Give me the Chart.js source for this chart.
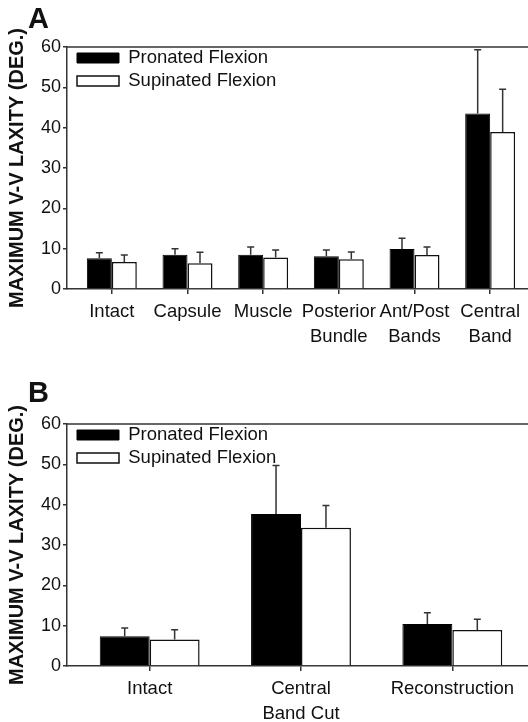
<!DOCTYPE html>
<html>
<head>
<meta charset="utf-8">
<script src="https://cdn.jsdelivr.net/npm/chart.js@4.4.1/dist/chart.umd.min.js"></script>
<style>
  html, body { margin: 0; padding: 0; background: #fff; }
  body { width: 528px; height: 722px; position: relative; overflow: hidden; font-family: "Liberation Sans", Arial, sans-serif; }
  .panel { position: absolute; left: 0; width: 528px; }
  .letter { position: absolute; left: 28px; font-weight: bold; font-size: 29px; line-height: 1; color: #111; }
</style>
</head>
<body>
<div class="panel" style="top:0"><canvas id="chartA" width="528" height="350"></canvas></div>
<div class="panel" style="top:370px"><canvas id="chartB" width="528" height="352"></canvas></div>
<div class="letter" style="top:4px">A</div>
<div class="letter" style="top:378px">B</div>
<script>
// data
const seriesNames = ["Pronated Flexion", "Supinated Flexion"];
const yTicks = [0, 10, 20, 30, 40, 50, 60];

const catsA = [["Intact"], ["Capsule"], ["Muscle"], ["Posterior", "Bundle"], ["Ant/Post", "Bands"], ["Central", "Band"]];
const pronatedA = [7.6, 8.5, 8.5, 8.1, 9.9, 43.5];
const pronatedErrA = [1.4, 1.5, 1.9, 1.6, 2.7, 15.8];
const supinatedA = [6.7, 6.4, 7.8, 7.4, 8.4, 38.9];
const supinatedErrA = [1.7, 2.7, 1.9, 1.8, 2.0, 10.6];

const catsB = [["Intact"], ["Central", "Band Cut"], ["Reconstruction"]];
const pronatedB = [7.4, 37.7, 10.4];
const pronatedErrB = [2.0, 12.0, 2.8];
const supinatedB = [6.6, 34.3, 8.9];
const supinatedErrB = [2.4, 5.5, 2.7];

const FONT = '"Liberation Sans", Arial, sans-serif';
const INK = "#111";
const AXIS = "#333";
Chart.defaults.font.family = FONT;
Chart.defaults.animation = false;

// upward error bars with a small cap
const errorBars = {
  id: "errorBars",
  afterDatasetsDraw(chart) {
    const ctx = chart.ctx;
    const y = chart.scales.y;
    ctx.save();
    ctx.strokeStyle = AXIS;
    ctx.lineWidth = 1.5;
    chart.data.datasets.forEach((ds, di) => {
      chart.getDatasetMeta(di).data.forEach((bar, i) => {
        const top = y.getPixelForValue(ds.data[i].y + ds.errors[i]);
        ctx.beginPath();
        ctx.moveTo(bar.x, bar.y);
        ctx.lineTo(bar.x, top);
        ctx.moveTo(bar.x - 3.5, top);
        ctx.lineTo(bar.x + 3.5, top);
        ctx.stroke();
      });
    });
    ctx.restore();
  }
};

// top edge of the frame
const topFrame = {
  id: "topFrame",
  beforeDatasetsDraw(chart) {
    const { ctx, chartArea: a } = chart;
    ctx.save();
    ctx.strokeStyle = AXIS;
    ctx.lineWidth = 1.5;
    ctx.beginPath();
    ctx.moveTo(a.left, a.top);
    ctx.lineTo(a.right, a.top);
    ctx.stroke();
    ctx.restore();
  }
};

// put the legend in the top-left corner of the plot
const legendNudge = {
  id: "legendNudge",
  afterLayout(chart) {
    chart.legend.left = chart.chartArea.left + 5.5;
    chart.legend.top = chart.chartArea.top - 2.75;
  }
};

function makeChart(id, cats, pro, proErr, sup, supErr, padTop, xHeight) {
  const n = cats.length;
  const spacing = 454 / n;
  return new Chart(document.getElementById(id), {
    type: "bar",
    data: {
      datasets: [
        {
          label: seriesNames[0],
          data: pro.map((v, i) => ({ x: i, y: v })),
          errors: proErr,
          backgroundColor: "#000",
          borderColor: "#000",
          borderWidth: 1,
          categoryPercentage: 0.66,
          barPercentage: 1
        },
        {
          label: seriesNames[1],
          data: sup.map((v, i) => ({ x: i, y: v })),
          errors: supErr,
          backgroundColor: "#fff",
          borderColor: INK,
          borderWidth: 1.5,
          categoryPercentage: 0.66,
          barPercentage: 1
        }
      ]
    },
    options: {
      responsive: false,
      layout: { padding: { top: padTop, left: 0, right: 0, bottom: 0 } },
      plugins: {
        tooltip: { enabled: false },
        legend: {
          position: "chartArea",
          align: "start",
          labels: { boxWidth: 42, boxHeight: 10, padding: 4.5, color: INK, font: { size: 18.5 } }
        }
      },
      scales: {
        x: {
          type: "linear",
          offset: false,
          min: -0.5 - 7 / spacing,
          max: n - 0.5,
          afterFit(s) { s.height = xHeight; },
          grid: { offset: false, drawOnChartArea: false, drawTicks: true, tickLength: 5, color: AXIS, lineWidth: 1.5 },
          border: { color: AXIS, width: 1.5 },
          ticks: {
            stepSize: 1,
            includeBounds: false,
            autoSkip: false,
            maxRotation: 0,
            minRotation: 0,
            padding: 5,
            color: INK,
            font: { size: 18.5, lineHeight: 1.35 },
            callback: (v) => cats[v]
          }
        },
        y: {
          min: yTicks[0],
          max: yTicks[yTicks.length - 1],
          afterFit(s) { s.width = 67; },
          grid: { drawOnChartArea: false, drawTicks: true, tickLength: 4, color: AXIS, lineWidth: 1.5 },
          border: { color: AXIS, width: 1.5 },
          ticks: { stepSize: 10, padding: 2, color: INK, font: { size: 18 } },
          title: {
            display: true,
            text: "MAXIMUM V-V LAXITY (DEG.)",
            color: INK,
            font: { size: 20, weight: "bold" },
            padding: { top: 5, bottom: 0 }
          }
        }
      }
    },
    plugins: [topFrame, errorBars, legendNudge]
  });
}

makeChart("chartA", catsA, pronatedA, pronatedErrA, supinatedA, supinatedErrA, 47, 61);
makeChart("chartB", catsB, pronatedB, pronatedErrB, supinatedB, supinatedErrB, 54, 56);
</script>
</body>
</html>
